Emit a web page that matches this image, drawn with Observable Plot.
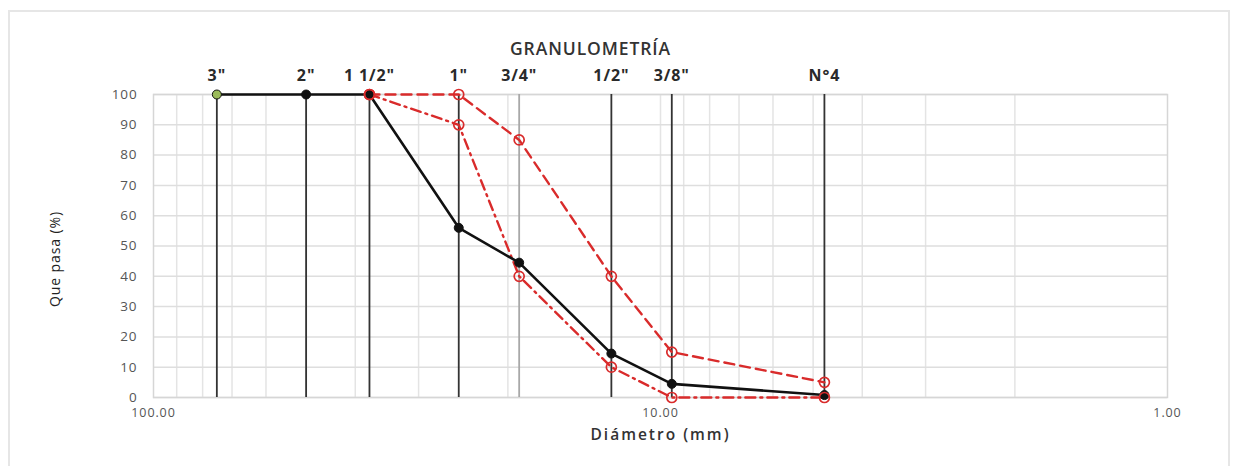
<!DOCTYPE html>
<html><head><meta charset="utf-8">
<script src="https://cdn.jsdelivr.net/npm/d3@7"></script>
<script src="https://cdn.jsdelivr.net/npm/@observablehq/plot@0.6"></script>
<style>
body{margin:0;background:#fff;}
#wrap{position:relative;width:1236px;height:466px;overflow:hidden;}
#border{position:absolute;left:8px;top:10px;width:1222px;height:480px;border:2px solid #e6e6e6;box-sizing:border-box;}
#wrap svg{position:absolute;left:0;top:0;}
#wrap svg text{letter-spacing:0.9px;}
</style></head><body><div id="wrap"><div id="border"></div></div>
<script>
// Sieve names and openings (mm)
const sieveLabels = ['3"', '2"', '1 1/2"', '1"', '3/4"', '1/2"', '3/8"', 'N°4'];
const sieveMm = [75, 50, 37.5, 25, 19, 12.5, 9.5, 4.75];
// % passing – sample
const muestra = [100, 100, 100, 56, 44.5, 14.5, 4.5, 0.8];
// Upper and lower spec limits (null = not defined)
const limiteSuperior = [null, null, 100, 100, 85, 40, 15, 5];
const limiteInferior = [null, null, 100, 90, 40, 10, 0, 0];
const yTicks = [0, 10, 20, 30, 40, 50, 60, 70, 80, 90, 100];
const xTicks = [100, 10, 1];
const xTickLabels = ["100.00", "10.00", "1.00"];

const rows = sieveMm.map((mm, i) => ({label: sieveLabels[i], mm, muestra: muestra[i], sup: limiteSuperior[i], inf: limiteInferior[i]}));
const supRows = rows.filter(d => d.sup != null);
const infRows = rows.filter(d => d.inf != null);
const minorGrid = [2,3,4,5,6,7,8,9,10,20,30,40,50,60,70,80,90];
const red = "#d92b2b";
const font = "'Open Sans', sans-serif";

const chart = Plot.plot({
  width: 1236, height: 466,
  marginLeft: 153, marginRight: 69, marginTop: 94, marginBottom: 69,
  style: {fontFamily: font, background: "transparent", overflow: "visible"},
  x: {type: "log", domain: [100, 1]},
  y: {domain: [0, 100]},
  marks: [
    Plot.ruleX(minorGrid, {stroke: "#e4e4e4", strokeWidth: 1.5}),
    Plot.ruleY(yTicks, {stroke: "#dedede", strokeWidth: 1.5}),
    Plot.frame({stroke: "#d6d6d6", strokeWidth: 1.5}),
    Plot.axisY({ticks: yTicks, tickSize: 0, tickPadding: 16, fontSize: 13.5, fill: "#555", label: null}),
    Plot.axisX({ticks: xTicks, tickFormat: (d) => xTickLabels[xTicks.indexOf(d)], tickSize: 0, tickPadding: 11, fontSize: 12.5, fill: "#555", label: null}),
    Plot.ruleX(rows, {x: "mm", y1: 0, y2: 100, stroke: d => d.label === '3/4"' ? "#a8a8a8" : "#333", strokeWidth: 1.8}),
    Plot.text(rows, {x: "mm", y: 100, text: "label", dy: -19, fontSize: 16, fontWeight: 700, fill: "#2a2a2a"}),
    Plot.line(supRows, {x: "mm", y: "sup", stroke: red, strokeWidth: 2.4, strokeDasharray: "10,6"}),
    Plot.line(infRows, {x: "mm", y: "inf", stroke: red, strokeWidth: 2.4, strokeDasharray: "10,5,2,5"}),
    Plot.line(rows, {x: "mm", y: "muestra", stroke: "#111", strokeWidth: 2.6}),
    Plot.dot(rows, {x: "mm", y: "muestra", r: 4.5, fill: (d) => d.label === '3"' ? "#9bbb59" : "#111", stroke: "#111", strokeWidth: 1}),
    Plot.dot(supRows, {x: "mm", y: "sup", r: 5, fill: "none", stroke: red, strokeWidth: 1.7}),
    Plot.dot(infRows, {x: "mm", y: "inf", r: 5, fill: "none", stroke: red, strokeWidth: 1.7}),
    Plot.text(["GRANULOMETRÍA"], {frameAnchor: "top", dx: -70, dy: -52, fontSize: 17.5, fontWeight: 600, fill: "#333"}),
    Plot.text(["Diámetro (mm)"], {frameAnchor: "bottom", dy: 42, fontSize: 15.5, fontWeight: 600, fill: "#333"}),
    Plot.text(["Que pasa (%)"], {frameAnchor: "left", textAnchor: "middle", dx: -98, dy: 13, rotate: -90, fontSize: 14, fill: "#222"})
  ]
});
d3.select(chart).selectAll("text").filter(function() { return this.textContent === "Diámetro (mm)"; }).style("letter-spacing", "2px");
document.getElementById("wrap").appendChild(chart);
</script>
</body></html>
